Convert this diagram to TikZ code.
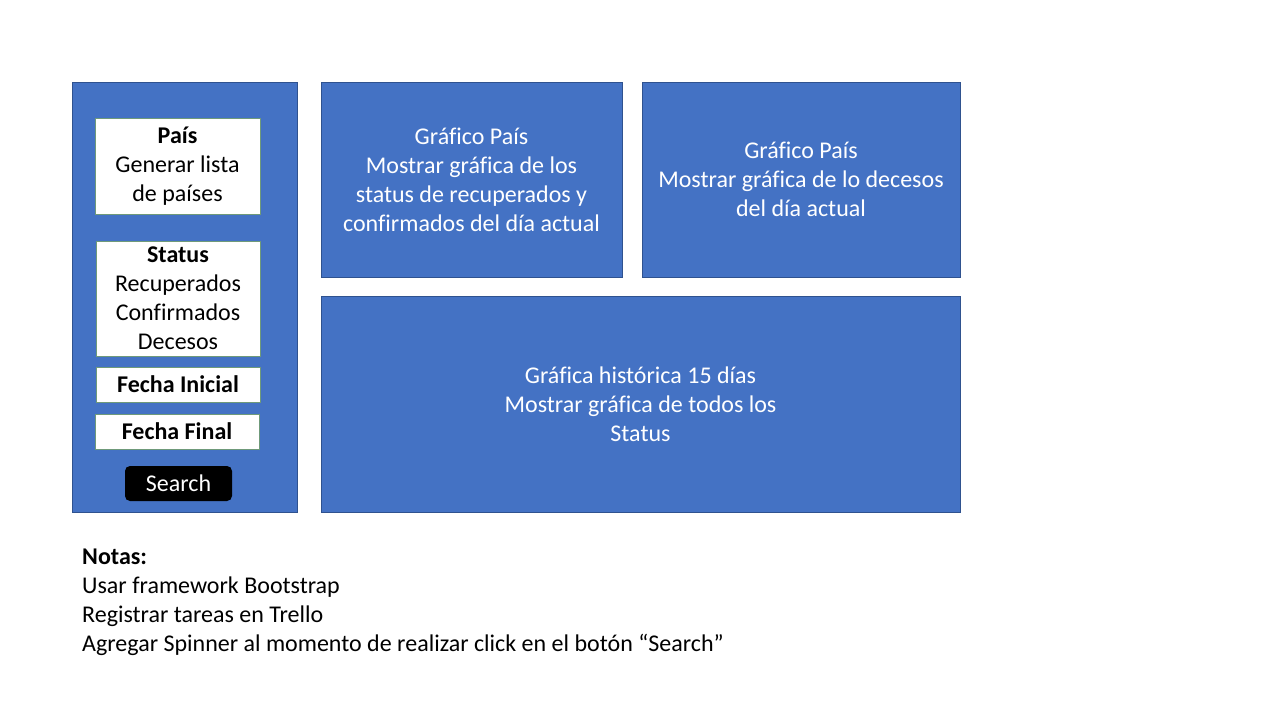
\documentclass[tikz,border=0pt]{standalone}
\usepackage{fontspec}
\setmainfont[Ligatures={NoCommon}]{Carlito}
\definecolor{panelblue}{HTML}{4472C4}
\definecolor{panelline}{HTML}{2F528F}
\definecolor{boxline}{HTML}{6F9A7A}
\begin{document}
\begin{tikzpicture}[x=1pt,y=-1pt,
  panel/.style={draw=panelline,line width=0.8pt,fill=panelblue,text=white,align=center,inner sep=0pt,
    font=\fontsize{24}{29}\selectfont},
  whitebox/.style={draw=boxline,line width=0.8pt,fill=white,text=black,align=center,inner sep=0pt,
    font=\fontsize{24}{29}\selectfont},
  btn/.style={fill=black,text=white,rounded corners=5pt,inner sep=0pt,
    font=\fontsize{24}{29}\selectfont},
  notes/.style={text=black,align=left,inner sep=0pt,anchor=north west,
    font=\fontsize{24}{29}\selectfont}]
\useasboundingbox (0,0) rectangle (1280,720);
\fill[white] (0,0) rectangle (1280,720);
% left panel
\node[panel,minimum width=225,minimum height=430] (left) at (184.5,297) {};
\node[whitebox,minimum width=165,minimum height=96] (pais) at (177.5,166) {\textbf{País}\\Generar lista\\de países};
\node[whitebox,minimum width=164,minimum height=115] (status) at (178,298.5) {\textbf{Status}\\Recuperados\\Confirmados\\Decesos};
\node[whitebox,minimum width=164,minimum height=35] (fini) at (178,384.5) {\textbf{Fecha Inicial}};
\node[whitebox,minimum width=164,minimum height=35] (ffin) at (177,431.5) {\textbf{Fecha Final}};
\node[btn,minimum width=107,minimum height=35] (search) at (178.5,483.5) {Search};
% top middle
\node[panel,minimum width=301,minimum height=195] (g1) at (471.5,179.5) {Gráfico País\\Mostrar gráfica de los\\status de recuperados y\\confirmados del día actual};
% top right
\node[panel,minimum width=318,minimum height=195] (g2) at (801,179.5) {Gráfico País\\Mostrar gráfica de lo decesos\\del día actual};
% bottom
\node[panel,minimum width=639,minimum height=216] (g3) at (640.5,404) {Gráfica histórica 15 días\\Mostrar gráfica de todos los\\Status};
% notes
\node[notes] (notas) at (82,549) {\textbf{Notas:}\\Usar framework Bootstrap\\Registrar tareas en Trello\\Agregar Spinner al momento de realizar click en el botón “Search”};
\end{tikzpicture}
\end{document}
